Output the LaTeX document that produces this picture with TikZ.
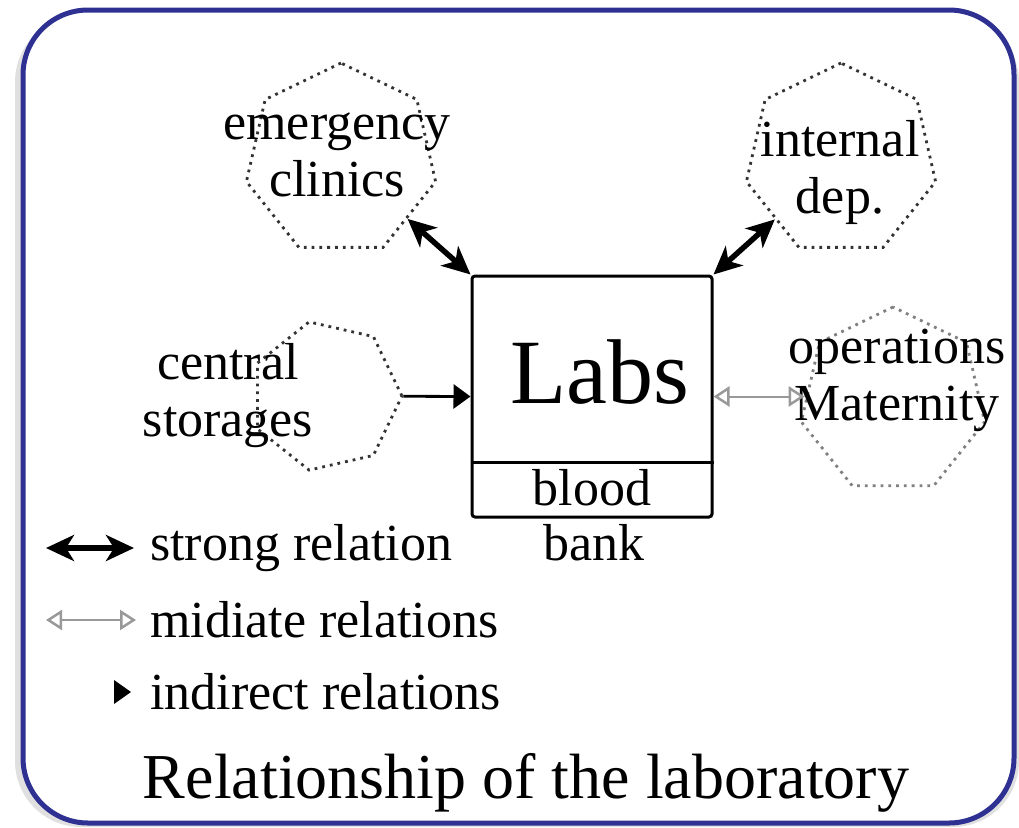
\documentclass[tikz,border=0pt]{standalone}
\usepackage{fontspec}
\setmainfont{Liberation Serif}
\usetikzlibrary{arrows.meta,shapes.geometric,calc}
\definecolor{frameblue}{RGB}{46,49,146}
\begin{document}
\begin{tikzpicture}[x=1pt, y=-1pt,
  lbl/.style={font=\fontsize{52}{57}\selectfont, align=center, inner sep=0pt},
  poly/.style={regular polygon, regular polygon sides=7, draw=black!80, line width=2.8pt,
    dash pattern=on 2.8pt off 5pt, inner sep=0pt},
  labbox/.style={draw, line width=3pt, minimum width=240pt, minimum height=241pt,
    rounded corners=3pt, inner sep=0pt},
  strong/.style={line width=5.5pt, {Stealth[length=28pt,width=26pt,inset=8pt]}-{Stealth[length=28pt,width=26pt,inset=8pt]}},
  mediate/.style={draw=black!40, line width=2pt,
    {Triangle[open,length=16pt,width=20pt,line width=2.5pt]}-{Triangle[open,length=16pt,width=20pt,line width=2.5pt]}},
  indirect/.style={line width=2.8pt, -{Triangle[length=17pt,width=24pt]}}]
  \useasboundingbox (0,0) rectangle (1019,827);
  \fill[black!12] (15,16) [rounded corners=66pt] rectangle (1019,827);
  \fill[white] (23,10) [rounded corners=65pt] rectangle (1014,823);
  \draw[frameblue, line width=5pt, rounded corners=65pt] (23,10) rectangle (1014,823);
  \node[labbox] (labs) at (592,396.5) {};
  \draw[line width=2.5pt] ($(labs.south west)+(0,-56)$) -- ($(labs.south east)+(0,-56)$);
  \node[font=\fontsize{92}{100}\selectfont, inner sep=0pt] (labstext) at (600,372) {Labs};
  \node[lbl] (blood) at (592,488) {blood};
  \node[lbl] (bank) at (594,543) {bank};
  \node[poly, minimum size=194pt] (ec) at (341,160) {};
  \node[poly, minimum size=194pt] (id) at (841,160) {};
  \node[poly, minimum size=152pt, shape border rotate=-90] (cs) at (326,396) {};
  \node[poly, minimum size=188pt, draw=black!50] (om) at (893,401) {};
  \node[lbl] (ectext) at (337,155) {emergency\\clinics};
  \node[lbl] (idtext) at (840,172) {internal\\dep.};
  \node[lbl] (cstext) at (228,396) {central\\storages};
  \node[lbl] (omtext) at (897,380) {operations\\Maternity};
  \draw[strong] (ec) -- (labs.north west);
  \draw[strong] (id) -- (labs.north east);
  \draw[indirect] (cs) -- (labs.west);
  \draw[mediate] (om.west |- labs.east) -- (labs.east);
  \coordinate (s1) at (46,548);
  \coordinate (s2) at (134,548);
  \coordinate (m1) at (46,620);
  \coordinate (m2) at (136,620);
  \coordinate (i1) at (114,692);
  \coordinate (i2) at (131,692);
  \draw[strong] (s1) -- (s2);
  \draw[mediate] (m1) -- (m2);
  \draw[indirect, line width=0pt] (i1) -- (i2);
  \node[lbl, anchor=west] (strongtext) at (150,548) {strong relation};
  \node[lbl, anchor=west] (mediatetext) at (150,620) {midiate relations};
  \node[lbl, anchor=west] (indirecttext) at (150,692) {indirect relations};
  \node[font=\fontsize{64}{70}\selectfont, inner sep=0pt] (title) at (526,783) {Relationship of the laboratory};
\end{tikzpicture}
\end{document}
